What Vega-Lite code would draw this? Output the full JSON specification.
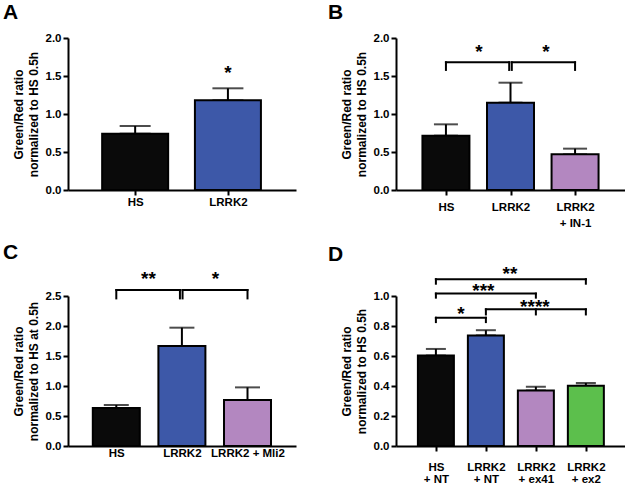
{
  "$schema": "https://vega.github.io/schema/vega-lite/v6.json",
  "padding": {"left": 3, "top": 2, "right": 0, "bottom": 0},
  "columns": 2,
  "bounds": "flush",
  "spacing": {"row": 106, "column": 100},
  "config": {
    "font": "Liberation Sans",
    "view": {"stroke": null},
    "axis": {
      "labelFont": "Liberation Sans", "labelFontWeight": "bold", "labelFontSize": 11.5, "labelColor": "#000",
      "titleFont": "Liberation Sans", "titleFontWeight": "bold", "titleFontSize": 12, "titleColor": "#000",
      "domainColor": "#000", "domainWidth": 2, "tickColor": "#000", "tickWidth": 2, "tickSize": 5,
      "grid": false, "labelPadding": 2, "titlePadding": 5, "titleLineHeight": 15,
      "labelOverlap": false, "labelFlush": false
    },
    "title": {"anchor": "start", "frame": "group", "fontSize": 21, "fontWeight": "bold", "color": "#000", "baseline": "alphabetic", "offset": 9, "font": "Liberation Sans"},
    "text": {"font": "Liberation Sans"}
  },
  "datasets": {
    "barsA": [
      {"x": 1, "y": 0.741, "err": 0.842, "group": "HS"},
      {"x": 2, "y": 1.18, "err": 1.338, "group": "LRRK2"}
    ],
    "starsA": [{"x": 2, "y": 1.59, "label": "*"}],
    "barsB": [
      {"x": 1, "y": 0.715, "err": 0.864, "group": "HS"},
      {"x": 2, "y": 1.149, "err": 1.412, "group": "LRRK2"},
      {"x": 3, "y": 0.469, "err": 0.544, "group": "LRRK2 + IN-1"}
    ],
    "bracketsB": [{"x": 1, "x2": 1.98, "y": 1.68}, {"x": 2.02, "x2": 3, "y": 1.68}],
    "legsB": [
      {"x": 1, "y": 1.68, "y2": 1.58}, {"x": 1.98, "y": 1.68, "y2": 1.58},
      {"x": 2.02, "y": 1.68, "y2": 1.58}, {"x": 3, "y": 1.68, "y2": 1.58}
    ],
    "starsB": [{"x": 1.51, "y": 1.87, "label": "*"}, {"x": 2.55, "y": 1.87, "label": "*"}],
    "barsC": [
      {"x": 1, "y": 0.633, "err": 0.683, "group": "HS"},
      {"x": 2, "y": 1.667, "err": 1.972, "group": "LRRK2"},
      {"x": 3, "y": 0.767, "err": 0.977, "group": "LRRK2 + Mli2"}
    ],
    "bracketsC": [{"x": 1, "x2": 1.97, "y": 2.6}, {"x": 2.01, "x2": 3, "y": 2.6}],
    "legsC": [
      {"x": 1, "y": 2.6, "y2": 2.46}, {"x": 1.97, "y": 2.6, "y2": 2.46},
      {"x": 2.01, "y": 2.6, "y2": 2.46}, {"x": 3, "y": 2.6, "y2": 2.46}
    ],
    "starsC": [{"x": 1.49, "y": 2.85, "label": "**"}, {"x": 2.51, "y": 2.85, "label": "*"}],
    "barsD": [
      {"x": 1, "y": 0.603, "err": 0.647, "group": "HS + NT"},
      {"x": 2, "y": 0.737, "err": 0.772, "group": "LRRK2 + NT"},
      {"x": 3, "y": 0.37, "err": 0.395, "group": "LRRK2 + ex41"},
      {"x": 4, "y": 0.402, "err": 0.42, "group": "LRRK2 + ex2"}
    ],
    "bracketsD": [
      {"x": 1, "x2": 2, "y": 0.855},
      {"x": 2, "x2": 4, "y": 0.911},
      {"x": 1, "x2": 3, "y": 1.016},
      {"x": 1, "x2": 4, "y": 1.112}
    ],
    "legsD": [
      {"x": 1, "y": 0.855, "y2": 0.826}, {"x": 2, "y": 0.855, "y2": 0.826},
      {"x": 2, "y": 0.911, "y2": 0.877}, {"x": 3, "y": 0.911, "y2": 0.877}, {"x": 4, "y": 0.911, "y2": 0.877},
      {"x": 1, "y": 1.016, "y2": 0.989}, {"x": 3, "y": 1.016, "y2": 0.989},
      {"x": 1, "y": 1.112, "y2": 1.082}, {"x": 4, "y": 1.112, "y2": 1.082}
    ],
    "starsD": [
      {"x": 1.5, "y": 0.904, "label": "*"},
      {"x": 2.98, "y": 0.955, "label": "****"},
      {"x": 1.95, "y": 1.062, "label": "***"},
      {"x": 2.48, "y": 1.172, "label": "**"}
    ]
  },
  "concat": [
    {
      "width": 228, "height": 152,
      "title": {"text": "A", "dx": -65},
      "encoding": {
        "x": {"field": "x", "type": "quantitative", "scale": {"domain": [0.33, 2.68]},
              "axis": {"values": [1, 2], "labelExpr": "datum.value == 1 ? 'HS' : 'LRRK2'", "title": null, "labelPadding": 1.5}},
        "y": {"field": "y", "type": "quantitative", "scale": {"domain": [0, 2]},
              "axis": {"values": [0, 0.5, 1, 1.5, 2], "format": ".1f", "title": ["Green/Red ratio", "normalized to HS 0.5h"]}}
      },
      "layer": [
        {"data": {"name": "barsA"}, "mark": {"type": "errorbar", "ticks": {"size": 31, "thickness": 2, "color": "#000"}, "rule": {"strokeWidth": 2, "color": "#000"}},
         "encoding": {"y2": {"field": "err"}}},
        {"data": {"name": "barsA"}, "mark": {"type": "bar", "orient": "vertical", "width": 66, "stroke": "#000", "strokeWidth": 2},
         "encoding": {"fill": {"field": "group", "type": "nominal", "legend": null,
           "scale": {"domain": ["HS", "LRRK2", "LRRK2 + IN-1", "LRRK2 + Mli2", "HS + NT", "LRRK2 + NT", "LRRK2 + ex41", "LRRK2 + ex2"],
                     "range": ["#0a0a0a", "#3d58a8", "#b387c0", "#b387c0", "#0a0a0a", "#3d58a8", "#b387c0", "#5cbf4c"]}}}},
        {"data": {"name": "starsA"}, "mark": {"type": "text", "fontSize": 19, "fontWeight": "bold", "baseline": "middle", "dy": 4, "color": "#000"},
         "encoding": {"text": {"field": "label"}}}
      ]
    },
    {
      "width": 229, "height": 152,
      "title": {"text": "B", "dx": -68},
      "encoding": {
        "x": {"field": "x", "type": "quantitative", "scale": {"domain": [0.304, 3.696]},
              "axis": {"values": [1, 2, 3], "labelExpr": "datum.value == 1 ? 'HS' : datum.value == 2 ? 'LRRK2' : ['LRRK2', '+ IN-1']", "title": null, "labelPadding": 6.5, "labelLineHeight": 15.5}},
        "y": {"field": "y", "type": "quantitative", "scale": {"domain": [0, 2]},
              "axis": {"values": [0, 0.5, 1, 1.5, 2], "format": ".1f", "title": ["Green/Red ratio", "normalized to HS 0.5h"]}}
      },
      "layer": [
        {"data": {"name": "barsB"}, "mark": {"type": "errorbar", "ticks": {"size": 24, "thickness": 2, "color": "#000"}, "rule": {"strokeWidth": 2, "color": "#000"}},
         "encoding": {"y2": {"field": "err"}}},
        {"data": {"name": "barsB"}, "mark": {"type": "bar", "orient": "vertical", "width": 47, "stroke": "#000", "strokeWidth": 2},
         "encoding": {"fill": {"field": "group", "type": "nominal", "legend": null,
           "scale": {"domain": ["HS", "LRRK2", "LRRK2 + IN-1", "LRRK2 + Mli2", "HS + NT", "LRRK2 + NT", "LRRK2 + ex41", "LRRK2 + ex2"],
                     "range": ["#0a0a0a", "#3d58a8", "#b387c0", "#b387c0", "#0a0a0a", "#3d58a8", "#b387c0", "#5cbf4c"]}}}},
        {"data": {"name": "bracketsB"}, "mark": {"type": "rule", "strokeWidth": 2, "color": "#000", "strokeCap": "square"},
         "encoding": {"x2": {"field": "x2"}}},
        {"data": {"name": "legsB"}, "mark": {"type": "rule", "strokeWidth": 2, "color": "#000", "strokeCap": "square"},
         "encoding": {"y2": {"field": "y2"}}},
        {"data": {"name": "starsB"}, "mark": {"type": "text", "fontSize": 19, "fontWeight": "bold", "baseline": "middle", "dy": 4, "color": "#000"},
         "encoding": {"text": {"field": "label"}}}
      ]
    },
    {
      "width": 228, "height": 150,
      "title": {"text": "C", "dx": -65, "offset": 7.5},
      "encoding": {
        "x": {"field": "x", "type": "quantitative", "scale": {"domain": [0.34, 3.663]},
              "axis": {"values": [1, 2, 3], "labelExpr": "datum.value == 1 ? 'HS' : datum.value == 2 ? 'LRRK2' : 'LRRK2 + Mli2'", "title": null, "ticks": false, "tickSize": 0, "labelPadding": 1.5}},
        "y": {"field": "y", "type": "quantitative", "scale": {"domain": [0, 2.5]},
              "axis": {"values": [0, 0.5, 1, 1.5, 2, 2.5], "format": ".1f", "title": ["Green/Red ratio", "normalized to HS at 0.5h"]}}
      },
      "layer": [
        {"data": {"name": "barsC"}, "mark": {"type": "errorbar", "ticks": {"size": 25, "thickness": 2, "color": "#000"}, "rule": {"strokeWidth": 2, "color": "#000"}},
         "encoding": {"y2": {"field": "err"}}},
        {"data": {"name": "barsC"}, "mark": {"type": "bar", "orient": "vertical", "width": 47, "stroke": "#000", "strokeWidth": 2},
         "encoding": {"fill": {"field": "group", "type": "nominal", "legend": null,
           "scale": {"domain": ["HS", "LRRK2", "LRRK2 + IN-1", "LRRK2 + Mli2", "HS + NT", "LRRK2 + NT", "LRRK2 + ex41", "LRRK2 + ex2"],
                     "range": ["#0a0a0a", "#3d58a8", "#b387c0", "#b387c0", "#0a0a0a", "#3d58a8", "#b387c0", "#5cbf4c"]}}}},
        {"data": {"name": "bracketsC"}, "mark": {"type": "rule", "strokeWidth": 2, "color": "#000", "strokeCap": "square"},
         "encoding": {"x2": {"field": "x2"}}},
        {"data": {"name": "legsC"}, "mark": {"type": "rule", "strokeWidth": 2, "color": "#000", "strokeCap": "square"},
         "encoding": {"y2": {"field": "y2"}}},
        {"data": {"name": "starsC"}, "mark": {"type": "text", "fontSize": 19, "fontWeight": "bold", "baseline": "middle", "dy": 4, "color": "#000"},
         "encoding": {"text": {"field": "label"}}}
      ]
    },
    {
      "width": 229, "height": 150,
      "title": {"text": "D", "dx": -68, "offset": 0},
      "encoding": {
        "x": {"field": "x", "type": "quantitative", "scale": {"domain": [0.302, 4.683]},
              "axis": {"values": [1, 2, 3, 4], "labelExpr": "datum.value == 1 ? ['HS', '+ NT'] : datum.value == 2 ? ['LRRK2', '+ NT'] : datum.value == 3 ? ['LRRK2', '+ ex41'] : ['LRRK2', '+ ex2']", "title": null, "labelPadding": 10.5, "labelLineHeight": 12}},
        "y": {"field": "y", "type": "quantitative", "scale": {"domain": [0, 1]},
              "axis": {"values": [0, 0.2, 0.4, 0.6, 0.8, 1], "format": ".1f", "title": ["Green/Red ratio", "normalized to HS 0.5h"]}}
      },
      "layer": [
        {"data": {"name": "barsD"}, "mark": {"type": "errorbar", "ticks": {"size": 20, "thickness": 2, "color": "#000"}, "rule": {"strokeWidth": 2, "color": "#000"}},
         "encoding": {"y2": {"field": "err"}}},
        {"data": {"name": "barsD"}, "mark": {"type": "bar", "orient": "vertical", "width": 36, "stroke": "#000", "strokeWidth": 2},
         "encoding": {"fill": {"field": "group", "type": "nominal", "legend": null,
           "scale": {"domain": ["HS", "LRRK2", "LRRK2 + IN-1", "LRRK2 + Mli2", "HS + NT", "LRRK2 + NT", "LRRK2 + ex41", "LRRK2 + ex2"],
                     "range": ["#0a0a0a", "#3d58a8", "#b387c0", "#b387c0", "#0a0a0a", "#3d58a8", "#b387c0", "#5cbf4c"]}}}},
        {"data": {"name": "bracketsD"}, "mark": {"type": "rule", "strokeWidth": 2, "color": "#000", "strokeCap": "square"},
         "encoding": {"x2": {"field": "x2"}}},
        {"data": {"name": "legsD"}, "mark": {"type": "rule", "strokeWidth": 2, "color": "#000", "strokeCap": "square"},
         "encoding": {"y2": {"field": "y2"}}},
        {"data": {"name": "starsD"}, "mark": {"type": "text", "fontSize": 19, "fontWeight": "bold", "baseline": "middle", "dy": 4, "color": "#000"},
         "encoding": {"text": {"field": "label"}}}
      ]
    }
  ]
}
